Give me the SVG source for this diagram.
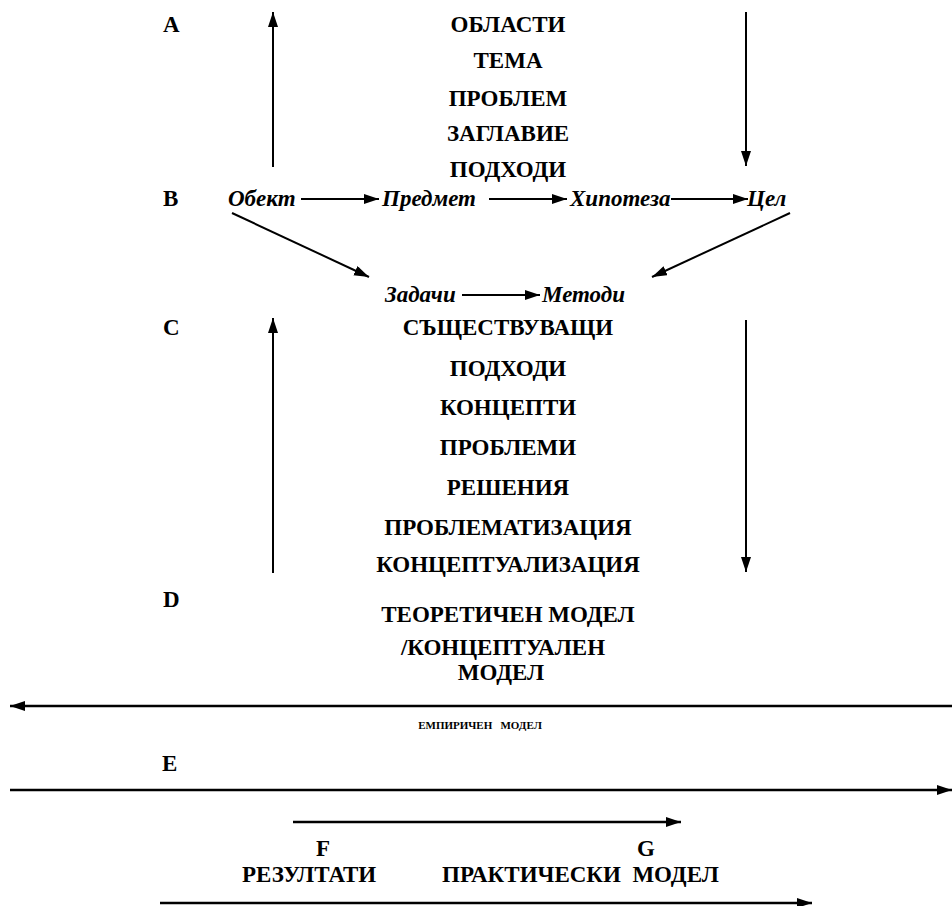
<svg xmlns="http://www.w3.org/2000/svg" width="952" height="906" viewBox="0 0 952 906">
<style>
text{font-family:'Liberation Serif','Times New Roman',Tinos,'DejaVu Serif',serif;font-weight:bold;fill:#000}
.b{font-size:23px}
.c{text-anchor:middle}
.i{font-size:23px;font-style:italic}
.s{font-size:11px;text-anchor:middle}
.ln{stroke:#000;stroke-width:2;fill:none}
.lt{stroke:#000;stroke-width:2.5;fill:none}
</style>
<defs>
<marker id="ah" markerUnits="userSpaceOnUse" markerWidth="16" markerHeight="12" refX="15" refY="5" orient="auto">
<path d="M0,0 L15,5 L0,10 z" fill="#000"/>
</marker>
</defs>
<rect width="952" height="906" fill="#fff"/>
<g id="labels">
<text class="b" x="163" y="32">A</text>
<text class="b" x="163" y="206">B</text>
<text class="b" x="163" y="335">C</text>
<text class="b" x="163" y="607">D</text>
<text class="b" x="162" y="771">E</text>
</g>
<g id="nodeA">
<text class="b c" x="508" y="32">ОБЛАСТИ</text>
<text class="b c" x="508" y="68">ТЕМА</text>
<text class="b c" x="508" y="106">ПРОБЛЕМ</text>
<text class="b c" x="508" y="141">ЗАГЛАВИЕ</text>
<text class="b c" x="508" y="177">ПОДХОДИ</text>
</g>
<g id="nodeB">
<text class="i" x="228" y="206">Обект</text>
<text class="i" x="382" y="206">Предмет</text>
<text class="i" x="570" y="206">Хипотеза</text>
<text class="i" x="747" y="206">Цел</text>
</g>
<g id="nodeTasks">
<text class="i" x="385" y="302">Задачи</text>
<text class="i" x="542" y="302">Методи</text>
</g>
<g id="nodeC">
<text class="b c" x="508" y="335">СЪЩЕСТВУВАЩИ</text>
<text class="b c" x="508" y="376">ПОДХОДИ</text>
<text class="b c" x="508" y="415">КОНЦЕПТИ</text>
<text class="b c" x="508" y="455">ПРОБЛЕМИ</text>
<text class="b c" x="508" y="495">РЕШЕНИЯ</text>
<text class="b c" x="508" y="535">ПРОБЛЕМАТИЗАЦИЯ</text>
<text class="b c" x="508" y="572">КОНЦЕПТУАЛИЗАЦИЯ</text>
</g>
<g id="nodeD">
<text class="b c" x="508" y="622">ТЕОРЕТИЧЕН МОДЕЛ</text>
<text class="b c" x="503" y="655">/КОНЦЕПТУАЛЕН</text>
<text class="b c" x="501" y="680">МОДЕЛ</text>
</g>
<g id="nodeE">
<text class="s" x="480" y="729" xml:space="preserve">ЕМПИРИЧЕН   МОДЕЛ</text>
</g>
<g id="nodeFG">
<text class="b" x="316" y="856">F</text>
<text class="b" x="637" y="856">G</text>
<text class="b" x="242" y="882">РЕЗУЛТАТИ</text>
<text class="b" x="442" y="882" xml:space="preserve">ПРАКТИЧЕСКИ  МОДЕЛ</text>
</g>
<g id="connectors">
<line class="ln" x1="273" y1="167" x2="273" y2="12" marker-end="url(#ah)"/>
<line class="ln" x1="746" y1="12" x2="746" y2="166" marker-end="url(#ah)"/>
<line class="ln" x1="301" y1="199" x2="379" y2="199" marker-end="url(#ah)"/>
<line class="ln" x1="489" y1="199" x2="567" y2="199" marker-end="url(#ah)"/>
<line class="ln" x1="671" y1="199" x2="748" y2="199" marker-end="url(#ah)"/>
<line class="ln" x1="232" y1="213" x2="369" y2="277" marker-end="url(#ah)"/>
<line class="ln" x1="790" y1="213" x2="652" y2="277" marker-end="url(#ah)"/>
<line class="ln" x1="462" y1="295" x2="540" y2="295" marker-end="url(#ah)"/>
<line class="ln" x1="273" y1="573" x2="273" y2="318" marker-end="url(#ah)"/>
<line class="ln" x1="746" y1="320" x2="746" y2="572" marker-end="url(#ah)"/>
<line class="lt" x1="952" y1="706" x2="10" y2="706" marker-end="url(#ah)"/>
<line class="lt" x1="10" y1="790" x2="952" y2="790" marker-end="url(#ah)"/>
<line class="lt" x1="293" y1="822" x2="681" y2="822" marker-end="url(#ah)"/>
<line class="lt" x1="160" y1="903" x2="812" y2="903" marker-end="url(#ah)"/>
</g>
</svg>
